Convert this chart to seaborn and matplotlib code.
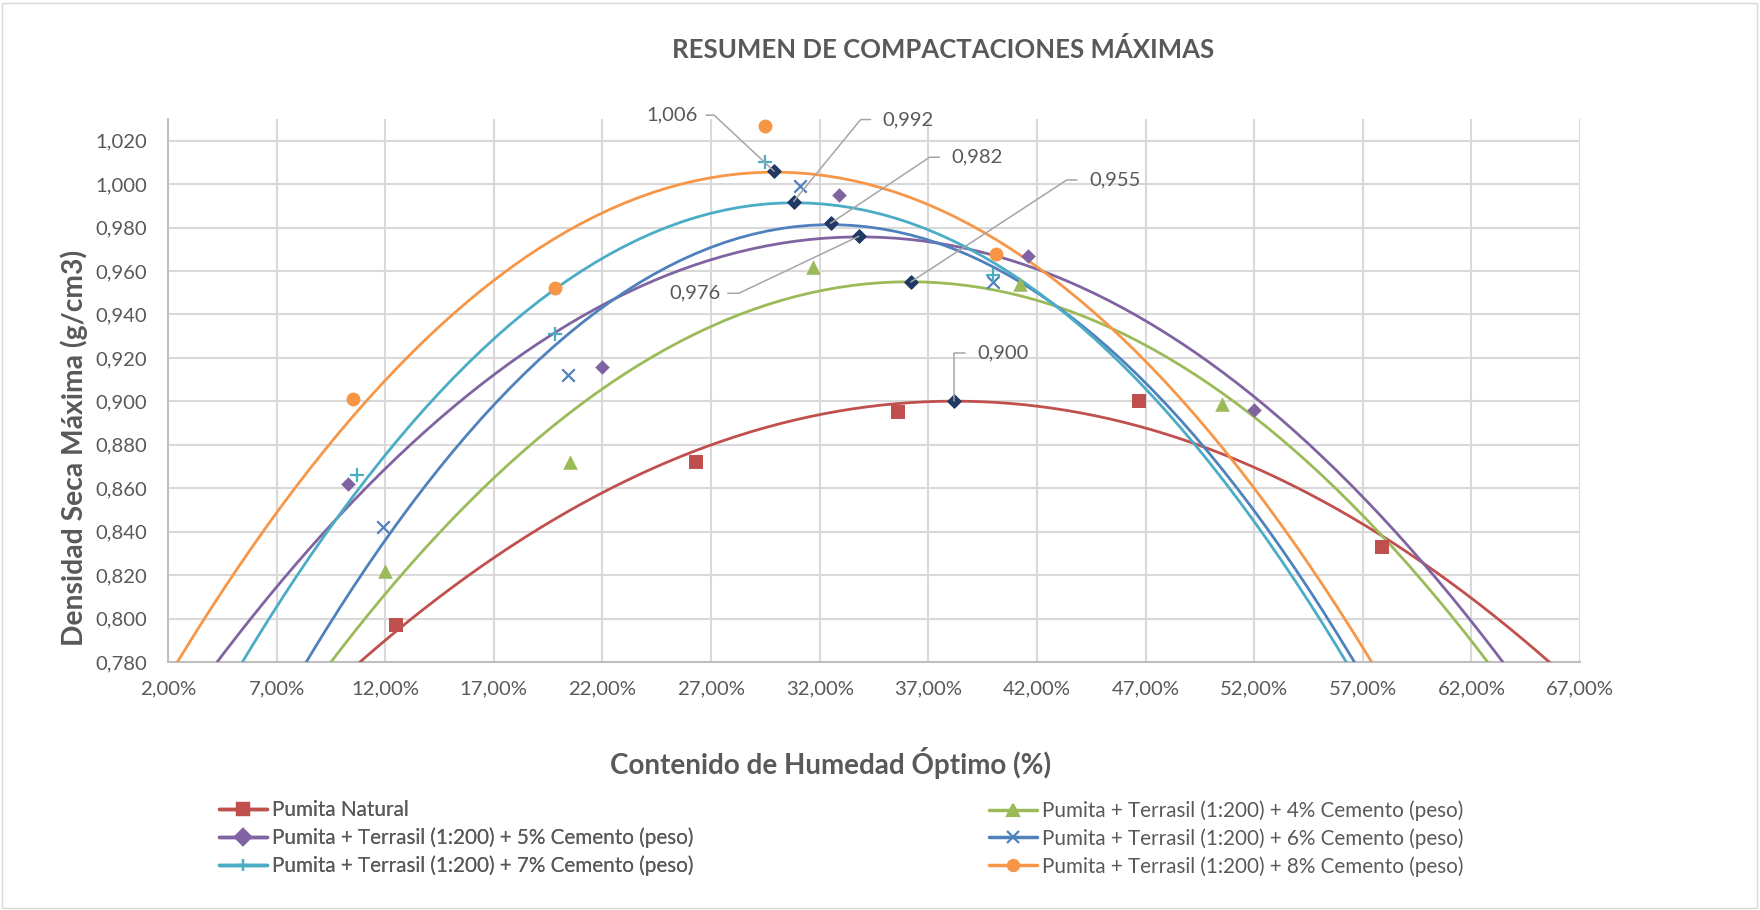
import numpy as np
import matplotlib
matplotlib.use('Agg')
import matplotlib.pyplot as plt
from matplotlib.lines import Line2D
from matplotlib.patches import Rectangle
from matplotlib.ticker import FuncFormatter
import seaborn as sns

# datos: humedad (%) y densidad seca (g/cm3)
nat_x = [12.5, 26.3, 35.6, 46.7, 57.9]
nat_y = [0.797, 0.872, 0.895, 0.900, 0.833]
c4_x = [12.0, 20.5, 31.7, 41.2, 50.5]
c4_y = [0.822, 0.872, 0.962, 0.954, 0.899]
c5_x = [10.3, 22.0, 32.9, 41.6, 52.0]
c5_y = [0.862, 0.916, 0.995, 0.967, 0.896]
c6_x = [11.9, 20.4, 31.1, 40.0]
c6_y = [0.842, 0.912, 0.999, 0.955]
c7_x = [10.7, 19.8, 29.5, 40.0]
c7_y = [0.866, 0.931, 1.010, 0.958]
c8_x = [10.5, 19.8, 29.5, 40.1]
c8_y = [0.901, 0.952, 1.027, 0.968]

# máximos de cada curva (natural, 4%, 5%, 6%, 7%, 8%)
max_x = [38.2, 36.2, 33.8, 32.5, 30.8, 29.9]
max_y = [0.900, 0.955, 0.976, 0.982, 0.992, 1.006]

labels = ['Pumita Natural',
          'Pumita + Terrasil (1:200) + 4% Cemento (peso)',
          'Pumita + Terrasil (1:200) + 5% Cemento (peso)',
          'Pumita + Terrasil (1:200) + 6% Cemento (peso)',
          'Pumita + Terrasil (1:200) + 7% Cemento (peso)',
          'Pumita + Terrasil (1:200) + 8% Cemento (peso)']

# colores estilo excel
RED, GREEN, PURPLE = '#C0504D', '#9BBB59', '#8064A2'
BLUE, CYAN, ORANGE = '#4F81BD', '#4BACC6', '#F79646'
NAVY = '#1F3864'
GRAY_TXT = '#595959'
GRID = '#D9D9D9'

series = [(nat_x, nat_y, RED, 's', 95),
          (c4_x, c4_y, GREEN, '^', 110),
          (c5_x, c5_y, PURPLE, 'D', 55),
          (c6_x, c6_y, BLUE, 'x', 80),
          (c7_x, c7_y, CYAN, '+', 90),
          (c8_x, c8_y, ORANGE, 'o', 100)]

# posiciones de las etiquetas (pixeles respecto al punto): esquina, fin de línea, texto
label_pos = [((0, -48), (11, -48), 23, 'left'),
             ((156, -102), (166, -102), 178, 'left'),
             ((-120, 57), (-131, 57), -138, 'right'),
             ((99, -66), (109, -66), 121, 'left'),
             ((67, -82), (77, -82), 89, 'left'),
             ((-60, -56), (-68, -56), -76, 'right')]

sns.set_style('white')
plt.rcParams['font.family'] = ['Lato', 'DejaVu Sans']

fig = plt.figure(figsize=(17.6, 9.1), dpi=100)
ax = fig.add_axes([168 / 1760, 1 - 662 / 910, (1580 - 168) / 1760, (662 - 119) / 910])
ax.set_xlim(2, 67)
ax.set_ylim(0.78, 1.03)

# líneas de tendencia polinómica (orden 2) y puntos
for x, y, col, mk, sz in series:
    sns.regplot(x=np.array(x), y=np.array(y), order=2, ci=None, scatter=False,
                truncate=False, ax=ax, color=col, line_kws={'lw': 2.0, 'zorder': 3})
for x, y, col, mk, sz in series:
    if mk in ('x', '+'):
        ax.scatter(x, y, marker=mk, s=sz, color=col, linewidths=1.6, zorder=4)
    else:
        sns.scatterplot(x=x, y=y, marker=mk, s=sz, color=col, edgecolor=col,
                        linewidth=0, ax=ax, zorder=4)

ax.scatter(max_x, max_y, marker='D', s=45, color=NAVY, zorder=5)
ax.set_xlim(2, 67)
ax.set_ylim(0.78, 1.03)

fig.canvas.draw()
to_disp = ax.transData
to_data = ax.transData.inverted()
for mx, my, (corner, end, tx, ha) in zip(max_x, max_y, label_pos):
    px, py = to_disp.transform((mx, my))
    pts = [(px, py), (px + corner[0], py - corner[1]), (px + end[0], py - end[1])]
    dpts = to_data.transform(pts)
    ax.plot(dpts[:, 0], dpts[:, 1], color='#A5A5A5', lw=1.1, zorder=6, clip_on=False)
    txt = f'{my:.3f}'.replace('.', ',')
    tpos = to_data.transform((px + tx, py - end[1]))
    ax.text(tpos[0], tpos[1], txt, ha=ha, va='center', fontsize=14.5,
            color=GRAY_TXT, zorder=6, clip_on=False)

# ejes y cuadrícula
ax.set_xticks(np.arange(2, 67.1, 5))
ax.set_yticks(np.arange(0.78, 1.021, 0.02))
ax.xaxis.set_major_formatter(FuncFormatter(lambda v, p: f'{v:.2f}%'.replace('.', ',')))
ax.yaxis.set_major_formatter(FuncFormatter(lambda v, p: f'{v:.3f}'.replace('.', ',')))
ax.grid(True, color=GRID, lw=1.5)
ax.set_axisbelow(True)
ax.tick_params(length=0, labelsize=14.6, labelcolor=GRAY_TXT)
ax.tick_params(axis='x', pad=13)
ax.tick_params(axis='y', pad=15)
for s in ['top', 'right']:
    ax.spines[s].set_visible(False)
for s in ['left', 'bottom']:
    ax.spines[s].set_color('#BFBFBF')
    ax.spines[s].set_linewidth(1.5)

ax.set_xlabel('Contenido de Humedad Óptimo (%)', fontsize=20, fontweight='bold',
              color=GRAY_TXT)
ax.xaxis.set_label_coords((831 - 168) / 1412, -(763 - 662) / 543)
ax.xaxis.label.set_va('center')
ax.set_ylabel('Densidad Seca Máxima (g/cm3)', fontsize=20.3, fontweight='bold',
              color=GRAY_TXT)
ax.yaxis.set_label_coords((74 - 168) / 1412, (662 - 448) / 543)
ax.yaxis.label.set_va('center')
fig.text(943 / 1760, 1 - 50 / 910, 'RESUMEN DE COMPACTACIONES MÁXIMAS', ha='center',
         va='center', fontsize=18.5, fontweight='bold', color=GRAY_TXT)

# leyenda en dos columnas
handles = [Line2D([], [], color=col, lw=2.5, marker=mk, markersize=8,
                  markeredgewidth=1.6, markeredgecolor=col)
           for x, y, col, mk, sz in series]
leg_kw = dict(loc='upper left', frameon=False, fontsize=14.9, handlelength=2.3,
              labelspacing=0.35, handletextpad=0.25, labelcolor=GRAY_TXT,
              borderaxespad=0)
leg1 = fig.legend([handles[i] for i in (0, 2, 4)], [labels[i] for i in (0, 2, 4)],
                  bbox_to_anchor=(211 / 1760, 1 - 792 / 910), **leg_kw)
leg2 = fig.legend([handles[i] for i in (1, 3, 5)], [labels[i] for i in (1, 3, 5)],
                  bbox_to_anchor=(981 / 1760, 1 - 792 / 910), **leg_kw)
fig.add_artist(leg1)

fig.add_artist(Rectangle((2 / 1760, 2 / 910), 1755 / 1760, 905 / 910,
                         transform=fig.transFigure, fill=False, edgecolor='#D9D9D9', lw=1))

fig.savefig('out.png', dpi=100)
